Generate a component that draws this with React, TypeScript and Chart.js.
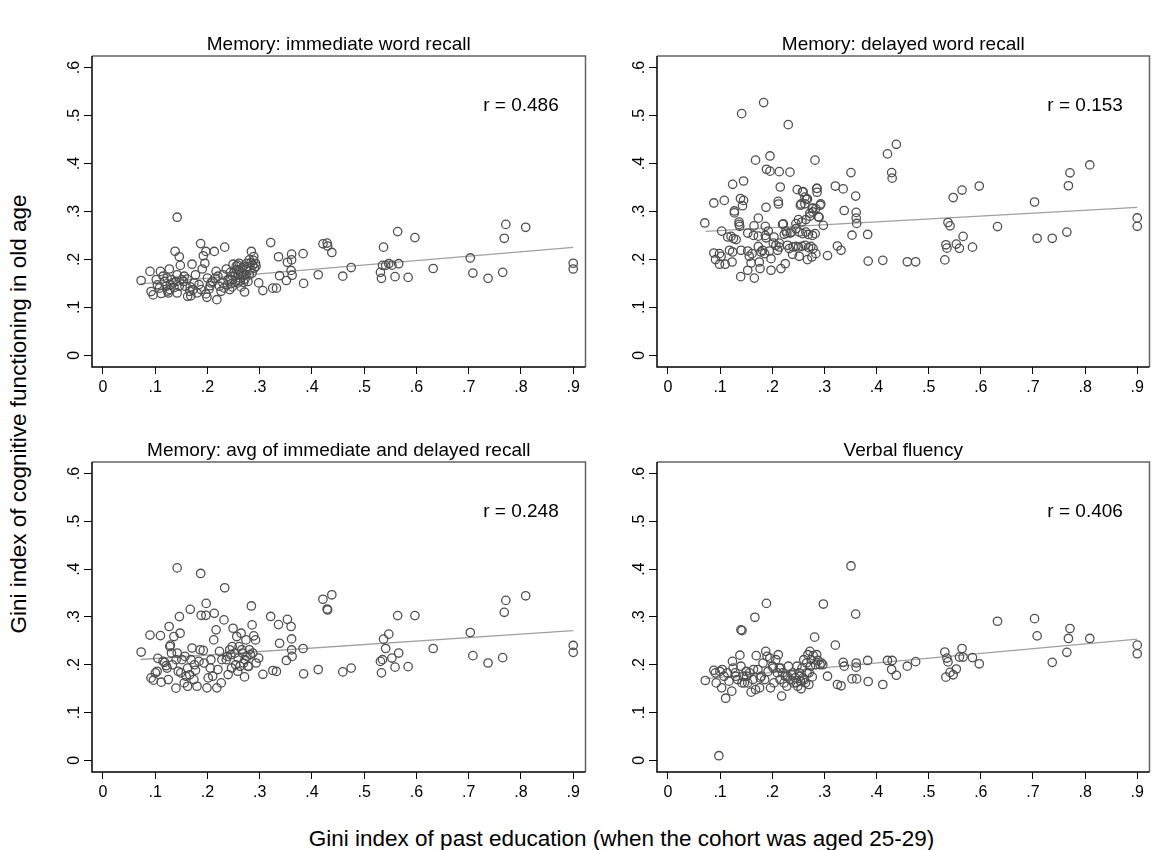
import React, { useEffect, useRef } from "react";
import { Chart, registerables } from "chart.js";

Chart.register(...registerables);

type Pt = [number, number];

// ---------- data ----------
const xTickValues = [0, 0.1, 0.2, 0.3, 0.4, 0.5, 0.6, 0.7, 0.8, 0.9];
const xTickLabels = ["0", ".1", ".2", ".3", ".4", ".5", ".6", ".7", ".8", ".9"];
const yTickValues = [0, 0.1, 0.2, 0.3, 0.4, 0.5, 0.6];
const yTickLabels = ["0", ".1", ".2", ".3", ".4", ".5", ".6"];

const panelTitles = [
  "Memory: immediate word recall",
  "Memory: delayed word recall",
  "Memory: avg of immediate and delayed recall",
  "Verbal fluency",
];
const correlations = [0.486, 0.153, 0.248, 0.406];

const xAxisTitle = "Gini index of past education (when the cohort was aged 25-29)";
const yAxisTitle = "Gini index of cognitive functioning in old age";

// fitted line end points (x from min to max of the data)
const fitX = [0.072, 0.9];
const immediateFit = [0.149, 0.225];
const delayedFit = [0.2586, 0.3087];
const averageFit = [0.211, 0.2715];
const verbalFit = [0.171, 0.2536];

const immediatePts: Pt[] = [
  [0.073, 0.156], [0.09, 0.175], [0.092, 0.133], [0.096, 0.126], [0.102, 0.158], [0.104, 0.147],
  [0.108, 0.14], [0.11, 0.175], [0.1115, 0.129], [0.115, 0.165], [0.118, 0.154], [0.121, 0.144],
  [0.1227, 0.161], [0.124, 0.134], [0.125, 0.13], [0.127, 0.18], [0.128, 0.137], [0.129, 0.147],
  [0.131, 0.158], [0.134, 0.151], [0.136, 0.141], [0.138, 0.217], [0.14, 0.154], [0.142, 0.288],
  [0.142, 0.168], [0.142, 0.13], [0.146, 0.144], [0.146, 0.2055], [0.148, 0.1875], [0.151, 0.158],
  [0.154, 0.154], [0.1555, 0.165], [0.157, 0.144], [0.161, 0.159], [0.162, 0.123], [0.166, 0.1335],
  [0.167, 0.1426], [0.168, 0.124], [0.1705, 0.19], [0.1725, 0.137], [0.174, 0.151], [0.177, 0.168],
  [0.18, 0.13], [0.1837, 0.1474], [0.187, 0.233], [0.188, 0.137], [0.19, 0.18], [0.192, 0.2076],
  [0.195, 0.192], [0.197, 0.2166], [0.197, 0.128], [0.199, 0.121], [0.2, 0.161], [0.203, 0.138],
  [0.205, 0.145], [0.2066, 0.151], [0.21, 0.154], [0.213, 0.2166], [0.2145, 0.161], [0.2165, 0.175],
  [0.218, 0.116], [0.22, 0.165], [0.223, 0.144], [0.226, 0.1335], [0.2296, 0.151], [0.23, 0.168],
  [0.2316, 0.1405], [0.233, 0.2256], [0.236, 0.18], [0.238, 0.147], [0.2395, 0.158], [0.2427, 0.137],
  [0.244, 0.173], [0.2447, 0.158], [0.246, 0.1495], [0.2473, 0.1426], [0.248, 0.165], [0.249, 0.19],
  [0.251, 0.172], [0.2526, 0.165], [0.254, 0.154], [0.255, 0.186], [0.256, 0.1785], [0.258, 0.151],
  [0.258, 0.188], [0.259, 0.168], [0.2605, 0.192], [0.261, 0.176], [0.2624, 0.161], [0.263, 0.155],
  [0.2644, 0.1426], [0.2657, 0.1716], [0.267, 0.182], [0.268, 0.166], [0.269, 0.152], [0.269, 0.1855],
  [0.271, 0.132], [0.272, 0.159], [0.2736, 0.168], [0.274, 0.178], [0.2755, 0.192], [0.2775, 0.154],
  [0.278, 0.185], [0.28, 0.199], [0.28, 0.168], [0.282, 0.18], [0.283, 0.193], [0.284, 0.2166],
  [0.2854, 0.1716], [0.2867, 0.1875], [0.288, 0.198], [0.2886, 0.206], [0.29, 0.182], [0.292, 0.192],
  [0.293, 0.1855],
  [0.298, 0.151], [0.306, 0.135], [0.321, 0.235], [0.325, 0.14], [0.332, 0.14], [0.336, 0.2055],
  [0.338, 0.166], [0.351, 0.156], [0.353, 0.194], [0.36, 0.177], [0.361, 0.211], [0.361, 0.199],
  [0.362, 0.167], [0.383, 0.212], [0.384, 0.15], [0.412, 0.168], [0.421, 0.2325], [0.429, 0.234],
  [0.43, 0.228], [0.438, 0.2145], [0.459, 0.165], [0.475, 0.183], [0.531, 0.173], [0.533, 0.1605],
  [0.535, 0.1875], [0.537, 0.2255], [0.541, 0.1875], [0.547, 0.191], [0.553, 0.188], [0.559, 0.164],
  [0.564, 0.258], [0.566, 0.191], [0.584, 0.1625], [0.597, 0.2455], [0.632, 0.181], [0.703, 0.203],
  [0.708, 0.1715], [0.737, 0.1605], [0.765, 0.173], [0.768, 0.244], [0.771, 0.273], [0.809, 0.267],
  [0.9, 0.192], [0.9, 0.18],
];

const delayedPts: Pt[] = [
  [0.1835, 0.527], [0.1414, 0.504], [0.2307, 0.481], [0.168, 0.407], [0.1957, 0.4157], [0.282, 0.407],
  [0.189, 0.388], [0.1957, 0.384], [0.2135, 0.383], [0.234, 0.382], [0.145, 0.3635], [0.124, 0.3566],
  [0.2154, 0.351], [0.248, 0.3455], [0.258, 0.341], [0.286, 0.348], [0.286, 0.34], [0.2626, 0.33],
  [0.2675, 0.326], [0.088, 0.3177], [0.108, 0.323], [0.139, 0.327], [0.145, 0.323], [0.143, 0.312],
  [0.2115, 0.321], [0.212, 0.3155], [0.254, 0.313], [0.2626, 0.316], [0.2918, 0.313], [0.188, 0.3087],
  [0.278, 0.307], [0.1275, 0.301], [0.1275, 0.297], [0.0707, 0.276], [0.103, 0.259], [0.1364, 0.278],
  [0.1364, 0.273], [0.1376, 0.269], [0.1733, 0.286], [0.153, 0.255], [0.165, 0.27], [0.164, 0.25],
  [0.1867, 0.269], [0.1867, 0.25], [0.1924, 0.259], [0.188, 0.245], [0.1733, 0.2485], [0.1733, 0.227],
  [0.2033, 0.2467], [0.202, 0.234], [0.2135, 0.234], [0.2198, 0.273], [0.2263, 0.259], [0.223, 0.2523],
  [0.2345, 0.255], [0.2377, 0.257], [0.2454, 0.2746], [0.2504, 0.283], [0.2568, 0.278], [0.2645, 0.283],
  [0.272, 0.29], [0.278, 0.299], [0.2836, 0.306], [0.2886, 0.289], [0.2454, 0.264], [0.2517, 0.257],
  [0.258, 0.2537], [0.2645, 0.257], [0.2696, 0.252], [0.2772, 0.25], [0.2823, 0.2537], [0.2293, 0.2294],
  [0.2326, 0.2225], [0.2402, 0.226], [0.2454, 0.2273], [0.2504, 0.226], [0.2568, 0.2273], [0.2631, 0.2294],
  [0.2695, 0.2246], [0.274, 0.2273], [0.2784, 0.2225], [0.2836, 0.212], [0.2676, 0.1996], [0.276, 0.205],
  [0.088, 0.2134], [0.0988, 0.212], [0.102, 0.2065], [0.0912, 0.1996], [0.0988, 0.19], [0.1097, 0.19],
  [0.123, 0.1946], [0.1147, 0.2467], [0.121, 0.248], [0.1256, 0.2434], [0.1307, 0.2413], [0.118, 0.219],
  [0.1402, 0.219], [0.124, 0.2155], [0.153, 0.2175], [0.1613, 0.212], [0.156, 0.2065], [0.1395, 0.164],
  [0.1657, 0.161], [0.153, 0.1773], [0.1594, 0.1925], [0.1766, 0.1808], [0.1752, 0.1946], [0.1815, 0.219],
  [0.1976, 0.1773], [0.2167, 0.1808], [0.2249, 0.191], [0.1976, 0.2015], [0.2071, 0.2294], [0.2135, 0.2259],
  [0.1785, 0.2155], [0.1854, 0.212], [0.1944, 0.2175], [0.2103, 0.219], [0.2389, 0.2106], [0.2517, 0.2065],
  [0.2214, 0.274], [0.228, 0.2547], [0.2553, 0.3156], [0.2592, 0.3412], [0.2657, 0.3253], [0.2722, 0.2962],
  [0.2767, 0.3066], [0.2852, 0.3481], [0.2898, 0.2879], [0.293, 0.3156],
  [0.298, 0.271], [0.306, 0.208], [0.321, 0.353], [0.325, 0.228], [0.332, 0.219], [0.336, 0.347],
  [0.338, 0.302], [0.351, 0.381], [0.353, 0.2505], [0.36, 0.332], [0.361, 0.298], [0.361, 0.286],
  [0.362, 0.275], [0.383, 0.252], [0.384, 0.1965], [0.412, 0.198], [0.421, 0.42], [0.429, 0.381],
  [0.43, 0.3695], [0.438, 0.44], [0.459, 0.195], [0.475, 0.195], [0.531, 0.199], [0.533, 0.2305],
  [0.535, 0.2235], [0.537, 0.277], [0.541, 0.27], [0.547, 0.329], [0.553, 0.232], [0.559, 0.223],
  [0.564, 0.3446], [0.566, 0.248], [0.584, 0.2256], [0.597, 0.353], [0.632, 0.2685], [0.703, 0.3197],
  [0.708, 0.244], [0.737, 0.244], [0.765, 0.257], [0.768, 0.3536], [0.771, 0.3806], [0.809, 0.397],
  [0.9, 0.2865], [0.9, 0.269],
];

const averagePts: Pt[] = [
  [0.073, 0.2266], [0.09, 0.262], [0.092, 0.1725], [0.0964, 0.1677], [0.1004, 0.183], [0.1037, 0.1864],
  [0.105, 0.2134], [0.11, 0.261], [0.1115, 0.1635], [0.115, 0.207], [0.118, 0.205], [0.121, 0.198],
  [0.1227, 0.193], [0.125, 0.169], [0.1266, 0.28], [0.128, 0.238], [0.129, 0.241], [0.131, 0.2245],
  [0.133, 0.2], [0.1358, 0.259], [0.1397, 0.151], [0.14, 0.2106], [0.142, 0.4026], [0.142, 0.2245],
  [0.144, 0.1864], [0.1463, 0.3007], [0.1476, 0.266], [0.149, 0.183], [0.151, 0.2106], [0.1555, 0.162],
  [0.157, 0.2175], [0.159, 0.176], [0.162, 0.155], [0.162, 0.193], [0.166, 0.179], [0.167, 0.316],
  [0.1686, 0.2106], [0.1705, 0.235], [0.174, 0.169], [0.175, 0.2], [0.177, 0.1885], [0.18, 0.155],
  [0.1837, 0.207], [0.1857, 0.2314], [0.187, 0.391], [0.188, 0.3035], [0.192, 0.23], [0.1935, 0.2037],
  [0.197, 0.3035], [0.1975, 0.3284], [0.199, 0.1517], [0.2014, 0.1725], [0.2053, 0.193], [0.2066, 0.2106],
  [0.21, 0.176], [0.212, 0.252], [0.213, 0.3076], [0.2165, 0.273], [0.218, 0.1517], [0.22, 0.19],
  [0.223, 0.228], [0.2263, 0.162], [0.2276, 0.2106], [0.2316, 0.2938], [0.233, 0.361], [0.236, 0.2106],
  [0.238, 0.2175], [0.2395, 0.1795], [0.2427, 0.2314], [0.2447, 0.221], [0.246, 0.1933], [0.2473, 0.238],
  [0.249, 0.2764], [0.2526, 0.2245], [0.254, 0.2], [0.256, 0.259], [0.258, 0.1864], [0.259, 0.214],
  [0.2605, 0.238], [0.2624, 0.1968], [0.2644, 0.266], [0.2657, 0.2314], [0.267, 0.2245], [0.269, 0.2037],
  [0.271, 0.1746], [0.272, 0.2106], [0.2736, 0.252], [0.2755, 0.2175], [0.2775, 0.1968], [0.2788, 0.1968],
  [0.28, 0.2314], [0.282, 0.221], [0.284, 0.323], [0.2854, 0.2834], [0.2867, 0.2245], [0.2886, 0.2605],
  [0.292, 0.252], [0.293, 0.2037],
  [0.298, 0.214], [0.306, 0.18], [0.321, 0.301], [0.325, 0.188], [0.332, 0.186], [0.336, 0.284],
  [0.338, 0.245], [0.351, 0.209], [0.353, 0.295], [0.36, 0.28], [0.361, 0.254], [0.361, 0.231],
  [0.362, 0.2175], [0.383, 0.234], [0.384, 0.181], [0.412, 0.19], [0.421, 0.337], [0.429, 0.3166],
  [0.43, 0.3146], [0.438, 0.3464], [0.459, 0.185], [0.475, 0.193], [0.531, 0.207], [0.533, 0.183],
  [0.535, 0.2106], [0.537, 0.2536], [0.541, 0.234], [0.547, 0.264], [0.553, 0.214], [0.559, 0.195],
  [0.564, 0.3028], [0.566, 0.2245], [0.584, 0.196], [0.597, 0.3028], [0.632, 0.234], [0.703, 0.2674],
  [0.708, 0.219], [0.737, 0.2037], [0.765, 0.2148], [0.768, 0.3097], [0.771, 0.3346], [0.809, 0.3443],
  [0.9, 0.2404], [0.9, 0.2259],
];

const verbalPts: Pt[] = [
  [0.0716, 0.167], [0.088, 0.1885], [0.091, 0.183], [0.0925, 0.162], [0.0977, 0.0097], [0.0996, 0.186],
  [0.103, 0.1517], [0.104, 0.19], [0.1075, 0.176], [0.1107, 0.13], [0.114, 0.183], [0.117, 0.1656],
  [0.1224, 0.1448], [0.1237, 0.207], [0.125, 0.193], [0.129, 0.183], [0.13, 0.176], [0.1335, 0.169],
  [0.138, 0.22], [0.14, 0.273], [0.142, 0.2716], [0.14, 0.197], [0.142, 0.162], [0.1446, 0.176],
  [0.1465, 0.162], [0.15, 0.186], [0.151, 0.176], [0.153, 0.162], [0.1563, 0.183], [0.1595, 0.1427],
  [0.163, 0.169], [0.164, 0.19], [0.1667, 0.2993], [0.168, 0.148], [0.1693, 0.219], [0.1725, 0.19],
  [0.1758, 0.1517], [0.177, 0.1725], [0.179, 0.176], [0.1823, 0.2037], [0.1856, 0.169], [0.1875, 0.228],
  [0.1889, 0.3284], [0.19, 0.2175], [0.192, 0.186], [0.1954, 0.214], [0.1967, 0.1517], [0.2006, 0.197],
  [0.2019, 0.193], [0.2032, 0.162], [0.207, 0.2106], [0.2097, 0.183], [0.2116, 0.221], [0.2136, 0.193],
  [0.2149, 0.169], [0.2162, 0.193], [0.218, 0.1344], [0.22, 0.183], [0.2227, 0.162], [0.2253, 0.176],
  [0.228, 0.155], [0.2292, 0.176], [0.231, 0.197], [0.2344, 0.169], [0.2377, 0.179], [0.2396, 0.183],
  [0.241, 0.162], [0.244, 0.1725], [0.2462, 0.162], [0.2475, 0.197], [0.2488, 0.155], [0.2514, 0.183],
  [0.2527, 0.176], [0.254, 0.1656], [0.2553, 0.1497], [0.2572, 0.193], [0.2592, 0.1725], [0.2605, 0.2106],
  [0.2618, 0.169], [0.2637, 0.162], [0.2657, 0.2037], [0.267, 0.183], [0.2683, 0.221], [0.2702, 0.1587],
  [0.2709, 0.183], [0.2722, 0.228], [0.2735, 0.197], [0.2748, 0.2106], [0.2768, 0.1746], [0.2787, 0.219],
  [0.2813, 0.2577], [0.2833, 0.2], [0.2852, 0.221], [0.2878, 0.209], [0.2917, 0.2], [0.2943, 0.2037],
  [0.297, 0.2],
  [0.298, 0.327], [0.306, 0.176], [0.321, 0.241], [0.325, 0.1587], [0.332, 0.156], [0.336, 0.205],
  [0.338, 0.197], [0.351, 0.4067], [0.353, 0.1704], [0.36, 0.306], [0.361, 0.2037], [0.361, 0.195],
  [0.362, 0.1704], [0.383, 0.209], [0.384, 0.165], [0.412, 0.1587], [0.421, 0.209], [0.429, 0.19],
  [0.43, 0.209], [0.438, 0.178], [0.459, 0.197], [0.475, 0.2065], [0.531, 0.2266], [0.533, 0.174],
  [0.535, 0.214], [0.537, 0.206], [0.541, 0.184], [0.547, 0.179], [0.553, 0.191], [0.559, 0.216],
  [0.564, 0.234], [0.566, 0.216], [0.584, 0.215], [0.597, 0.202], [0.632, 0.291], [0.703, 0.2965],
  [0.708, 0.2605], [0.737, 0.205], [0.765, 0.226], [0.768, 0.255], [0.771, 0.2758], [0.809, 0.255],
  [0.9, 0.241], [0.9, 0.223],
];

// annotation anchor (data coordinates) for "r = ..."
const annotX = 0.8;
const annotY = 0.52;

// ---------- layout / style ----------
const FONT = '"Liberation Sans", Arial, Helvetica, sans-serif';
const MARKER_COLOR = "rgb(80,80,80)";
const FIT_COLOR = "rgb(160,160,160)";
const X_MIN = -0.021;
const X_MAX = 0.9235;
const Y_MIN = -0.0244;
const Y_MAX = 0.6242;

const PLOT_RECTS = [
  { left: 92, top: 56, right: 587, bottom: 367 },
  { left: 657, top: 56, right: 1151, bottom: 367 },
  { left: 92, top: 462, right: 587, bottom: 772 },
  { left: 657, top: 462, right: 1151, bottom: 772 },
];
const PAD_LEFT = 52;
const PAD_TOP = 40;
const PAD_RIGHT = 4;
const X_AXIS_H = 45;
const Y_AXIS_W = 30;

const PANELS = [
  { title: panelTitles[0], points: immediatePts, fit: immediateFit, r: correlations[0] },
  { title: panelTitles[1], points: delayedPts, fit: delayedFit, r: correlations[1] },
  { title: panelTitles[2], points: averagePts, fit: averageFit, r: correlations[2] },
  { title: panelTitles[3], points: verbalPts, fit: verbalFit, r: correlations[3] },
];

function makeDecor(title: string, r: number) {
  return {
    id: "panelDecor",
    afterDraw(chart: any) {
      const { ctx, chartArea: ca, scales } = chart;
      const xs = scales.x;
      const ys = scales.y;
      ctx.save();
      // frame: top & right gray, left & bottom black axes
      ctx.lineWidth = 1.5;
      ctx.strokeStyle = "rgb(100,100,100)";
      ctx.beginPath();
      ctx.moveTo(ca.left, ca.top);
      ctx.lineTo(ca.right, ca.top);
      ctx.lineTo(ca.right, ca.bottom);
      ctx.stroke();
      ctx.strokeStyle = "#000";
      ctx.beginPath();
      ctx.moveTo(ca.left, ca.top);
      ctx.lineTo(ca.left, ca.bottom);
      ctx.lineTo(ca.right, ca.bottom);
      ctx.stroke();

      // rotated y tick labels
      ctx.fillStyle = "#000";
      ctx.font = `16px ${FONT}`;
      ys.ticks.forEach((t: any, i: number) => {
        const py = ys.getPixelForValue(t.value);
        ctx.save();
        ctx.translate(ca.left - 13.5, py);
        ctx.rotate(-Math.PI / 2);
        ctx.textAlign = "center";
        ctx.textBaseline = "alphabetic";
        ctx.fillText(yTickLabels[i], 0, 0);
        ctx.restore();
      });

      // panel title
      ctx.font = `19px ${FONT}`;
      ctx.textAlign = "center";
      ctx.textBaseline = "alphabetic";
      ctx.fillText(title, (ca.left + ca.right) / 2, ca.top - 6.5);

      // correlation annotation
      ctx.textBaseline = "middle";
      ctx.fillText(`r = ${r.toFixed(3)}`, xs.getPixelForValue(annotX), ys.getPixelForValue(annotY));
      ctx.restore();
    },
  };
}

function Panel({ idx }: { idx: number }) {
  const ref = useRef<HTMLCanvasElement>(null);
  const rect = PLOT_RECTS[idx];
  const w = rect.right - rect.left + PAD_LEFT + PAD_RIGHT;
  const h = rect.bottom - rect.top + PAD_TOP + X_AXIS_H;

  useEffect(() => {
    const p = PANELS[idx];
    const chart = new Chart(ref.current as HTMLCanvasElement, {
      type: "scatter",
      data: {
        datasets: [
          {
            data: fitX.map((x, i) => ({ x, y: p.fit[i] })),
            showLine: true,
            borderColor: FIT_COLOR,
            borderWidth: 1.3,
            pointRadius: 0,
            pointHoverRadius: 0,
            order: 2,
          } as any,
          {
            data: p.points.map(([x, y]) => ({ x, y })),
            showLine: false,
            pointStyle: "circle",
            pointRadius: 4.2,
            pointHoverRadius: 4.2,
            pointBorderWidth: 1.3,
            pointBorderColor: MARKER_COLOR,
            pointBackgroundColor: "rgba(0,0,0,0)",
            order: 1,
          } as any,
        ],
      },
      options: {
        responsive: false,
        maintainAspectRatio: false,
        animation: false,
        events: [],
        layout: { padding: { left: PAD_LEFT - Y_AXIS_W, top: PAD_TOP, right: PAD_RIGHT, bottom: 0 } },
        plugins: { legend: { display: false }, tooltip: { enabled: false }, title: { display: false } },
        scales: {
          x: {
            type: "linear",
            min: X_MIN,
            max: X_MAX,
            afterBuildTicks: (s: any) => {
              s.ticks = xTickValues.map((v) => ({ value: v }));
            },
            afterFit: (s: any) => {
              s.height = X_AXIS_H;
            },
            ticks: {
              autoSkip: false,
              maxRotation: 0,
              minRotation: 0,
              color: "#000",
              padding: 4,
              font: { family: FONT, size: 16 },
              callback: (_v: any, i: number) => xTickLabels[i],
            },
            grid: { display: true, drawOnChartArea: false, drawTicks: true, tickLength: 7, color: "#000", lineWidth: 1 },
            border: { display: false },
          },
          y: {
            type: "linear",
            min: Y_MIN,
            max: Y_MAX,
            afterBuildTicks: (s: any) => {
              s.ticks = yTickValues.map((v) => ({ value: v }));
            },
            afterFit: (s: any) => {
              s.width = Y_AXIS_W;
            },
            ticks: { display: false },
            grid: { display: true, drawOnChartArea: false, drawTicks: true, tickLength: 8, color: "#000", lineWidth: 1 },
            border: { display: false },
          },
        },
      } as any,
      plugins: [makeDecor(p.title, p.r)],
    });
    return () => chart.destroy();
  }, [idx]);

  return (
    <canvas
      ref={ref}
      width={w}
      height={h}
      style={{ position: "absolute", left: rect.left - PAD_LEFT, top: rect.top - PAD_TOP, width: w, height: h }}
    />
  );
}

export default function App() {
  useEffect(() => {
    document.body.style.margin = "0";
    document.body.style.background = "#fff";
  }, []);
  return (
    <div style={{ position: "relative", width: 1155, height: 850, background: "#fff", overflow: "hidden", fontFamily: FONT }}>
      {PANELS.map((_, i) => (
        <Panel key={i} idx={i} />
      ))}
      <div
        style={{
          position: "absolute",
          left: 621.5,
          top: 828,
          transform: "translateX(-50%)",
          fontSize: 22.5,
          lineHeight: 1,
          whiteSpace: "nowrap",
          color: "#000",
        }}
      >
        {xAxisTitle}
      </div>
      <div
        style={{
          position: "absolute",
          left: 19.2,
          top: 414,
          transform: "translate(-50%, -50%) rotate(-90deg)",
          fontSize: 22.5,
          lineHeight: 1,
          whiteSpace: "nowrap",
          color: "#000",
        }}
      >
        {yAxisTitle}
      </div>
    </div>
  );
}
